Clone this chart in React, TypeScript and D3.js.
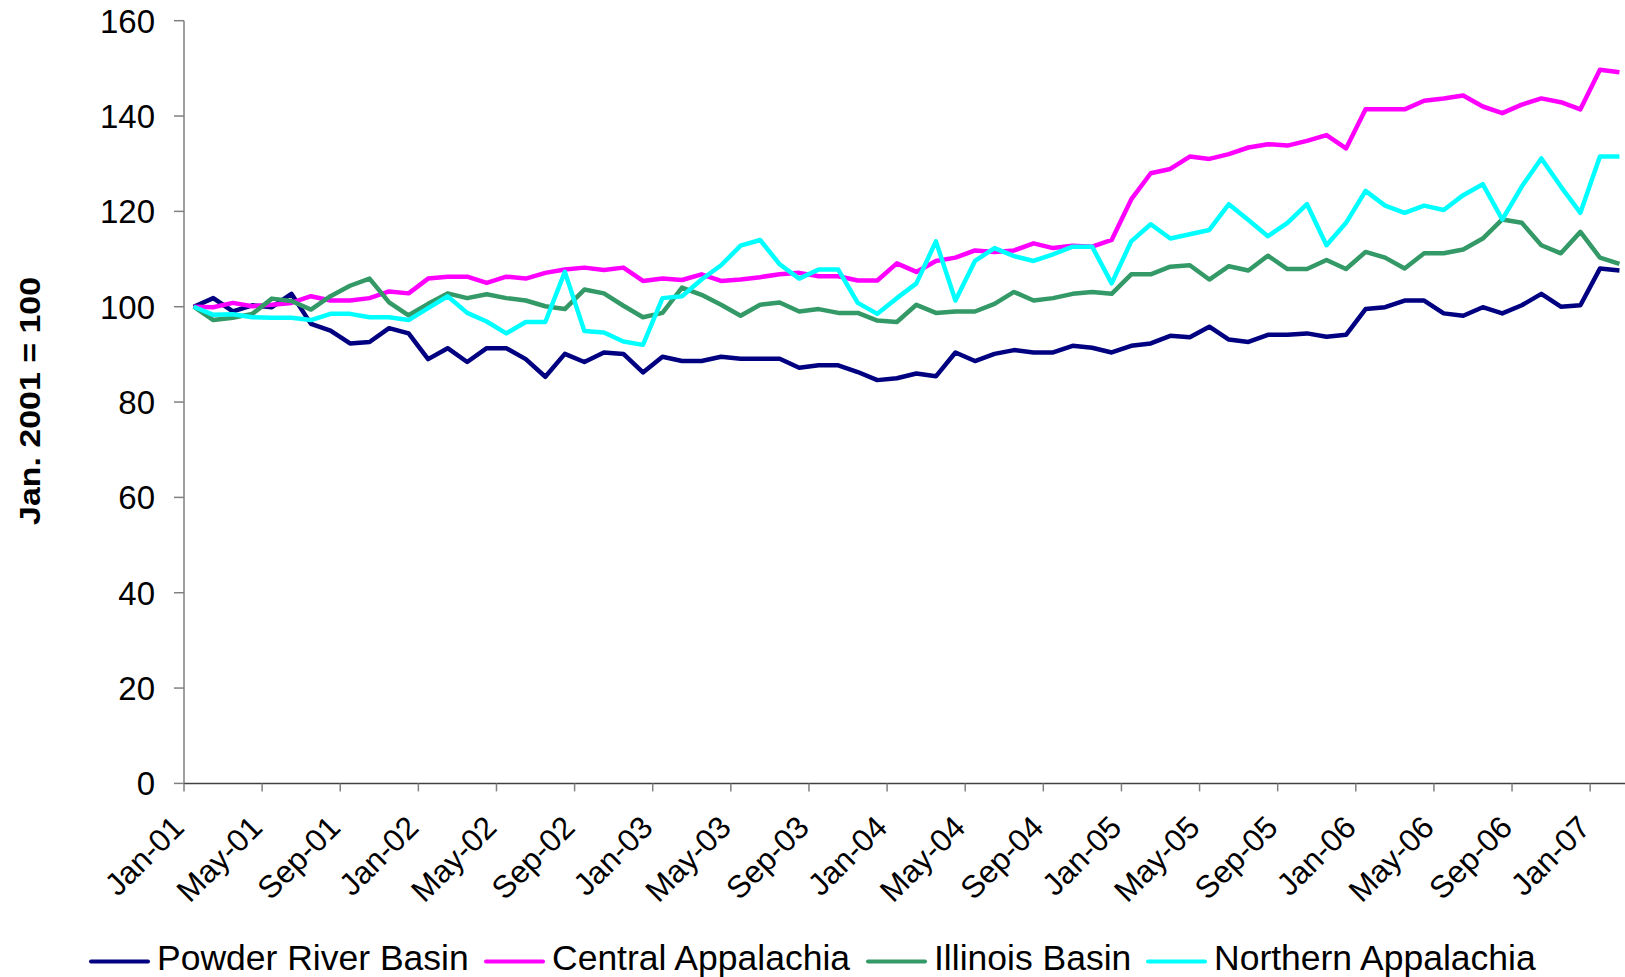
import React from "react";
import * as d3 from "d3";

const monthNames = ["Jan","Feb","Mar","Apr","May","Jun","Jul","Aug","Sep","Oct","Nov","Dec"];
const categories: string[] = [];
for (let yr = 1; yr <= 7; yr++) {
  for (let m = 0; m < 12; m++) {
    if (yr === 7 && m > 1) break;
    categories.push(`${monthNames[m]}-0${yr}`);
  }
}

const tickLabels = [
  "Jan-01","May-01","Sep-01","Jan-02","May-02","Sep-02","Jan-03","May-03","Sep-03",
  "Jan-04","May-04","Sep-04","Jan-05","May-05","Sep-05","Jan-06","May-06","Sep-06","Jan-07",
];
const yTicks = [0, 20, 40, 60, 80, 100, 120, 140, 160];

const powderRiver = [
  100, 101.8, 99.0, 100.3, 99.9, 102.7, 96.4, 95.0, 92.3, 92.6, 95.5, 94.4,
  89.0, 91.3, 88.4, 91.3, 91.3, 89.0, 85.3, 90.1, 88.4, 90.4, 90.1, 86.2,
  89.5, 88.6, 88.6, 89.5, 89.1, 89.1, 89.1, 87.2, 87.7, 87.7, 86.3, 84.6,
  85.0, 86.0, 85.4, 90.4, 88.6, 90.1, 90.9, 90.4, 90.4, 91.8, 91.4, 90.4,
  91.8, 92.3, 93.9, 93.6, 95.8, 93.1, 92.6, 94.1, 94.1, 94.4, 93.7, 94.1,
  99.5, 99.9, 101.3, 101.3, 98.6, 98.1, 99.9, 98.6, 100.3, 102.7, 100.0, 100.3,
  108.0, 107.6,
];
const centralApp = [
  100, 99.9, 100.8, 100.1, 100.4, 100.8, 102.2, 101.3, 101.3, 101.8, 103.2, 102.8,
  105.9, 106.3, 106.3, 105.0, 106.3, 105.9, 107.1, 107.8, 108.2, 107.7, 108.2, 105.4,
  105.9, 105.6, 106.8, 105.4, 105.7, 106.2, 106.8, 107.1, 106.4, 106.4, 105.5, 105.5,
  109.1, 107.3, 109.6, 110.3, 111.8, 111.5, 111.8, 113.3, 112.3, 112.8, 112.6, 114.0,
  122.5, 128.0, 128.9, 131.5, 131.0, 132.0, 133.4, 134.1, 133.8, 134.8, 136.0, 133.2,
  141.4, 141.4, 141.4, 143.2, 143.7, 144.3, 142.0, 140.6, 142.4, 143.7, 142.9, 141.4,
  149.7, 149.2,
];
const illinois = [
  100, 97.2, 97.7, 98.5, 101.7, 101.2, 99.4, 102.2, 104.4, 105.9, 100.9, 98.2,
  100.6, 102.8, 101.8, 102.6, 101.8, 101.3, 100.1, 99.5, 103.6, 102.8, 100.2, 97.8,
  98.7, 104.0, 102.5, 100.4, 98.1, 100.4, 100.9, 99.0, 99.5, 98.7, 98.7, 97.1,
  96.8, 100.4, 98.7, 99.0, 99.0, 100.6, 103.1, 101.3, 101.8, 102.7, 103.1, 102.7,
  106.8, 106.8, 108.4, 108.7, 105.7, 108.5, 107.6, 110.7, 107.9, 107.9, 109.8, 107.9,
  111.5, 110.3, 108.0, 111.2, 111.2, 112.0, 114.3, 118.3, 117.6, 112.9, 111.2, 115.7,
  110.3, 109.0,
];
const northernApp = [
  100, 98.3, 98.4, 97.8, 97.7, 97.7, 97.2, 98.5, 98.5, 97.8, 97.8, 97.2,
  99.7, 102.2, 98.7, 96.9, 94.4, 96.8, 96.8, 107.3, 94.9, 94.6, 92.7, 92.0,
  101.8, 102.2, 105.7, 108.7, 112.8, 114.0, 108.9, 105.9, 107.8, 107.8, 100.8, 98.5,
  101.8, 104.9, 113.7, 101.3, 109.6, 112.3, 110.6, 109.6, 111.0, 112.6, 112.6, 104.9,
  113.7, 117.3, 114.3, 115.2, 116.1, 121.5, 118.2, 114.8, 117.6, 121.5, 112.9, 117.6,
  124.3, 121.2, 119.7, 121.2, 120.3, 123.4, 125.7, 118.3, 125.2, 131.1, 125.2, 119.7,
  131.5, 131.5,
];

const seriesNames = ["Powder River Basin", "Central Appalachia", "Illinois Basin", "Northern Appalachia"];
const seriesColors = ["#000080", "#FF00FF", "#339966", "#00FFFF"];
const seriesValues = [powderRiver, centralApp, illinois, northernApp];

const W = 1625, H = 977;
const axisX = 184;
const step = 19.53;
const yTop = 20.7, yBottom = 783.4;
const legendX = [91, 486, 868, 1148];
const FONT = "'Liberation Sans', Arial, Helvetica, sans-serif";

export default function App() {
  const n = categories.length;
  const x = d3.scaleLinear().domain([-0.5, n - 0.5]).range([axisX, axisX + n * step]);
  const y = d3.scaleLinear().domain([0, 160]).range([yBottom, yTop]);
  const line = d3.line<number>().x((_, i) => x(i)).y((d) => y(d));
  const tickIdx = tickLabels.map((_, k) => k * 4 - 0.5);

  return (
    <svg width={W} height={H} style={{ position: "absolute", left: 0, top: 0, background: "#fff" }} fontFamily={FONT}>
      {/* y axis */}
      <line x1={axisX} x2={axisX} y1={y(160)} y2={y(0)} stroke="#808080" strokeWidth={1.5} />
      {yTicks.map((t) => (
        <g key={t}>
          <line x1={axisX - 10} x2={axisX} y1={y(t)} y2={y(t)} stroke="#808080" strokeWidth={1.5} />
          <text x={155} y={y(t)} dy="0.36em" textAnchor="end" fontSize={33} fill="#000">{t}</text>
        </g>
      ))}
      {/* x axis */}
      <line x1={axisX} x2={W} y1={y(0)} y2={y(0)} stroke="#404040" strokeWidth={1.5} />
      {tickIdx.map((ti, k) => (
        <g key={k}>
          <line x1={x(ti)} x2={x(ti)} y1={y(0)} y2={y(0) + 8} stroke="#808080" strokeWidth={1.5} />
          <text
            transform={`translate(${x(ti) + 2},${y(0) + 46}) rotate(-45)`}
            textAnchor="end"
            fontSize={31.5}
            fill="#000"
          >
            {tickLabels[k]}
          </text>
        </g>
      ))}
      {/* y title */}
      <text
        transform={`translate(29,401) rotate(-90)`}
        textAnchor="middle"
        dominantBaseline="central"
        fontSize={30}
        fontWeight="bold"
        textLength={248}
        lengthAdjust="spacingAndGlyphs"
      >
        Jan. 2001 = 100
      </text>
      {/* series */}
      {seriesValues.map((vals, s) => (
        <path key={s} d={line(vals) || ""} fill="none" stroke={seriesColors[s]} strokeWidth={4.5} strokeLinejoin="round" />
      ))}
      {/* legend */}
      {seriesNames.map((name, s) => (
        <g key={name}>
          <line x1={legendX[s]} x2={legendX[s] + 57} y1={961.5} y2={961.5} stroke={seriesColors[s]} strokeWidth={4} strokeLinecap="round" />
          <text x={legendX[s] + 66} y={970} fontSize={35.5} fill="#000">{name}</text>
        </g>
      ))}
    </svg>
  );
}
